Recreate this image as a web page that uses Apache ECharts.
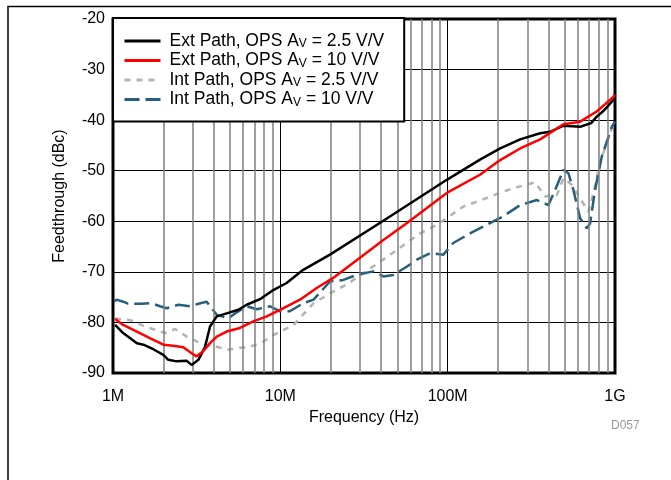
<!DOCTYPE html>
<html>
<head>
<meta charset="utf-8">
<script src="https://cdn.jsdelivr.net/npm/echarts@6/dist/echarts.min.js"></script>
<style>
html,body{margin:0;padding:0;background:#fff;}
#chart{width:671px;height:480px;}
</style>
</head>
<body>
<div id="chart"></div>
<script>
// ---- data (frequency in MHz, feedthrough in dBc) ----
var extAv25Freq = [1.03, 1.15, 1.39, 1.52, 1.74, 2.00, 2.14, 2.40, 2.76, 2.95, 3.24, 3.55, 3.80, 4.17, 4.78, 5.61, 6.30, 7.56, 9.08, 10.9, 13.7, 19.8, 40.4, 98.8, 156, 206, 271, 357, 409, 492, 619, 720, 778, 852, 978, 1000];
var extAv25dB   = [-80.5, -82.1, -84.1, -84.4, -85.3, -86.4, -87.4, -87.7, -87.6, -88.4, -87.4, -84.8, -80.8, -78.8, -78.2, -77.5, -76.5, -75.4, -73.6, -72.2, -69.6, -66.6, -60.1, -51.8, -47.8, -45.6, -43.8, -42.6, -42.3, -41.1, -41.3, -40.6, -39.3, -38.2, -36.0, -35.6];

var extAv10Freq = [1.03, 1.15, 1.39, 1.66, 2.00, 2.29, 2.63, 2.95, 3.16, 3.46, 3.80, 4.17, 4.78, 5.74, 6.90, 8.29, 9.96, 13.1, 16.5, 20.7, 41.3, 56.9, 98.8, 156, 206, 271, 357, 492, 619, 778, 978, 1000];
var extAv10dB   = [-79.3, -80.5, -81.8, -83.1, -84.4, -84.6, -84.9, -86.1, -86.7, -85.7, -84.1, -82.8, -81.8, -81.1, -79.8, -78.8, -77.5, -75.5, -73.2, -71.2, -63.7, -60.4, -54.4, -50.8, -47.9, -45.6, -43.8, -40.8, -40.3, -38.3, -35.4, -35.0];

var intAv25Freq = [1.03, 1.29, 1.52, 2.05, 2.35, 2.76, 3.19, 3.63, 4.17, 4.78, 5.61, 6.59, 7.74, 9.08, 12.0, 15.8, 20.7, 24.9, 36.0, 49.6, 68.4, 86.1, 124, 171, 215, 271, 333, 382, 449, 492, 552, 693, 743, 815, 893, 978];
var intAv25dB   = [-79.2, -79.6, -80.7, -82.1, -81.3, -82.8, -83.8, -84.4, -84.8, -85.4, -85.1, -84.8, -84.0, -82.5, -80.5, -76.2, -73.9, -72.5, -68.9, -65.7, -62.4, -60.7, -57.1, -55.4, -54.1, -53.1, -52.3, -55.1, -54.8, -51.5, -52.8, -58.1, -54.4, -48.2, -44.6, -40.6];

var intAv10Freq = [1.02, 1.05, 1.15, 1.23, 1.48, 1.70, 1.91, 2.09, 2.46, 2.89, 3.24, 3.63, 4.17, 4.89, 5.49, 6.30, 7.23, 8.68, 9.96, 11.4, 13.7, 15.8, 19.8, 23.8, 28.6, 36.0, 41.3, 47.4, 56.9, 65.4, 78.5, 94.3, 108, 136, 171, 215, 271, 341, 400, 439, 492, 527, 564, 619, 678, 710, 760, 834, 957, 1000];
var intAv10dB   = [-75.8, -75.5, -75.9, -76.3, -76.3, -76.2, -76.8, -77.2, -76.5, -76.8, -76.3, -75.9, -78.5, -79.2, -78.0, -76.8, -77.4, -76.8, -77.8, -77.8, -76.2, -75.5, -71.9, -71.6, -70.6, -69.9, -70.9, -70.6, -69.0, -67.6, -66.3, -66.6, -64.3, -62.4, -60.7, -59.0, -56.8, -55.8, -56.8, -53.8, -49.8, -50.5, -53.8, -59.4, -61.4, -60.4, -53.8, -47.2, -41.3, -40.3];

var seriesNames = ['Ext Path, OPS Av = 2.5 V/V', 'Ext Path, OPS Av = 10 V/V', 'Int Path, OPS Av = 2.5 V/V', 'Int Path, OPS Av = 10 V/V'];
var legendPre = ['Ext Path, OPS A', 'Ext Path, OPS A', 'Int Path, OPS A', 'Int Path, OPS A'];
var legendSub = ['V', 'V', 'V', 'V'];
var legendPost = [' = 2.5 V/V', ' = 10 V/V', ' = 2.5 V/V', ' = 10 V/V'];

var xTickValues = [1, 10, 100, 1000];
var xTickLabels = ['1M', '10M', '100M', '1G'];
var yTicks = [-90, -80, -70, -60, -50, -40, -30, -20];

function pairs(f, v) { return f.map(function (x, i) { return [x, v[i]]; }); }

// minor vertical gridlines (2..9 within each decade)
var minorLines = [];
[1, 10, 100].forEach(function (d) {
  for (var k = 2; k <= 9; k++) minorLines.push({ xAxis: k * d });
});

var FONT = 'Liberation Sans, Arial, sans-serif';
var chart = echarts.init(document.getElementById('chart'), null, { renderer: 'canvas' });

var option = {
  animation: false,
  backgroundColor: '#fff',
  grid: { left: 113, top: 19, width: 502, height: 354, show: true, borderColor: '#000', borderWidth: 3, backgroundColor: 'transparent', containLabel: false },
  xAxis: {
    type: 'log', logBase: 10, min: 1, max: 1000,
    name: 'Frequency (Hz)', nameLocation: 'middle', nameGap: 34,
    nameTextStyle: { fontFamily: FONT, fontSize: 16, color: '#000' },
    axisLine: { show: false },
    axisTick: { show: false },
    axisLabel: {
      fontFamily: FONT, fontSize: 16, color: '#000', margin: 16,
      formatter: function (v) {
        var i = xTickValues.indexOf(Math.round(v));
        return i >= 0 ? xTickLabels[i] : '';
      }
    },
    splitLine: { show: true, lineStyle: { color: '#000', width: 1 } }
  },
  yAxis: {
    type: 'value', min: -90, max: -20, interval: 10,
    name: 'Feedthrough (dBc)', nameLocation: 'middle', nameGap: 45,
    nameTextStyle: { fontFamily: FONT, fontSize: 16, color: '#000' },
    axisLine: { show: false },
    axisTick: { show: false },
    axisLabel: { fontFamily: FONT, fontSize: 16, color: '#000', margin: 8 },
    splitLine: { show: true, lineStyle: { color: '#000', width: 1 } }
  },
  legend: {
    data: seriesNames,
    orient: 'vertical',
    left: 113, top: 18,
    backgroundColor: '#fff',
    borderColor: '#000', borderWidth: 2,
    padding: [14, 20, 13, 10],
    itemWidth: 36, itemHeight: 14, itemGap: 1.5,
    itemStyle: { opacity: 0 },
    lineStyle: { width: 3 },
    textStyle: {
      fontFamily: FONT, fontSize: 17.5, color: '#000', padding: [0, 0, 0, 4],
      rich: {
        n: { fontFamily: FONT, fontSize: 17.5, lineHeight: 18, color: '#000' },
        sub: { fontFamily: FONT, fontSize: 12, lineHeight: 12, verticalAlign: 'bottom', color: '#000' }
      }
    },
    formatter: function (name) {
      var i = seriesNames.indexOf(name);
      return '{n|' + legendPre[i] + '}{sub|' + legendSub[i] + '}{n|' + legendPost[i] + '}';
    },
    z: 10
  },
  series: [
    {
      name: 'grid-minor', type: 'line', data: [[1, -200]], symbol: 'none', silent: true,
      lineStyle: { opacity: 0 }, z: 1,
      markLine: {
        silent: true, symbol: 'none', label: { show: false },
        lineStyle: { color: '#7f7f7f', type: 'solid', width: 1.5 },
        data: minorLines
      }
    },
    {
      name: seriesNames[2], type: 'line', data: pairs(intAv25Freq, intAv25dB), symbol: 'none', z: 3,
      lineStyle: { color: '#b3b3b3', width: 2.5, type: [6, 6] }, itemStyle: { color: '#b3b3b3' }
    },
    {
      name: seriesNames[3], type: 'line', data: pairs(intAv10Freq, intAv10dB), symbol: 'none', z: 4,
      lineStyle: { color: '#275e7b', width: 2.5, type: [15, 6] }, itemStyle: { color: '#275e7b' }
    },
    {
      name: seriesNames[0], type: 'line', data: pairs(extAv25Freq, extAv25dB), symbol: 'none', z: 5,
      lineStyle: { color: '#000', width: 2.5 }, itemStyle: { color: '#000' }
    },
    {
      name: seriesNames[1], type: 'line', data: pairs(extAv10Freq, extAv10dB), symbol: 'none', z: 6,
      lineStyle: { color: '#ff0000', width: 2.5 }, itemStyle: { color: '#ff0000' }
    }
  ],
  graphic: [
    { type: 'polyline', shape: { points: [[8, 480], [8, 6.5], [671, 6.5]] }, style: { stroke: '#000', lineWidth: 1.5, fill: null }, silent: true },
    { type: 'text', left: 611, top: 420, style: { text: 'D057', fontFamily: FONT, fontSize: 12, fill: '#999' } }
  ]
};
chart.setOption(option);
</script>
</body>
</html>
